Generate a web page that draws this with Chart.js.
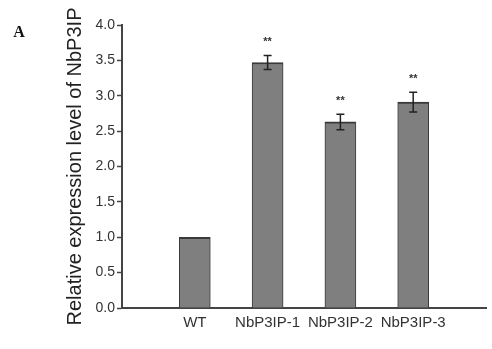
<!DOCTYPE html>
<html>
<head>
<meta charset="utf-8">
<script src="https://cdn.jsdelivr.net/npm/chart.js@4.4.0/dist/chart.umd.min.js"></script>
<style>
  html, body { margin: 0; padding: 0; background: #fff; }
  #wrap { width: 492px; height: 349px; }
</style>
</head>
<body>
<div id="wrap"><canvas id="graph"></canvas></div>
<script>
// donnees
const lignees = ["WT", "NbP3IP-1", "NbP3IP-2", "NbP3IP-3"];
const expression = [1.0, 3.47, 2.63, 2.91];
const erreurs = [0, 0.10, 0.11, 0.14];
const signif = ["", "**", "**", "**"];
const ticksY = [0.0, 0.5, 1.0, 1.5, 2.0, 2.5, 3.0, 3.5, 4.0];

// une case vide de chaque cote pour garder l'espacement de l'original
const labels = ["", ...lignees, ""];
const valeurs = [null, ...expression, null];

const barresErreur = {
    id: "barresErreur",
    afterDatasetsDraw(chart) {
        const ctx = chart.ctx;
        const x = chart.scales.x;
        const y = chart.scales.y;
        ctx.save();
        ctx.strokeStyle = "#222";
        ctx.lineWidth = 1.5;
        lignees.forEach((nom, i) => {
            const px = x.getPixelForValue(i + 1);
            const haut = y.getPixelForValue(expression[i] + erreurs[i]);
            const bas = y.getPixelForValue(expression[i] - erreurs[i]);
            if (erreurs[i] > 0) {
                ctx.beginPath();
                ctx.moveTo(px, haut); ctx.lineTo(px, bas);
                ctx.moveTo(px - 4, haut); ctx.lineTo(px + 4, haut);
                ctx.moveTo(px - 4, bas); ctx.lineTo(px + 4, bas);
                ctx.stroke();
            }
            if (signif[i]) {
                ctx.fillStyle = "#333";
                ctx.font = "bold 11px 'Liberation Sans', Arial";
                ctx.textAlign = "center";
                ctx.textBaseline = "middle";
                ctx.fillText(signif[i], px, haut - 13);
            }
        });
        // lettre du panneau
        ctx.fillStyle = "#111";
        ctx.font = "bold 16px 'Liberation Serif', 'Times New Roman'";
        ctx.textAlign = "center";
        ctx.textBaseline = "middle";
        ctx.fillText("A", 19, 33);
        ctx.restore();
    }
};

const ctx = document.getElementById("graph").getContext("2d");
const chart = new Chart(ctx, {
    type: "bar",
    data: {
        labels: labels,
        datasets: [{
            data: valeurs,
            backgroundColor: "#7f7f7f",
            borderColor: "#3a3a3a",
            borderWidth: { top: 2, left: 1, right: 1, bottom: 0 },
            borderSkipped: false,
            barThickness: 31
        }]
    },
    options: {
        responsive: true,
        maintainAspectRatio: false,
        animation: false,
        layout: { padding: { top: 25, right: 0, bottom: 0, left: 0 } },
        plugins: {
            legend: { display: false },
            tooltip: { enabled: false }
        },
        scales: {
            x: {
                offset: false,
                grid: { display: false, drawTicks: false },
                border: { display: true, color: "#444", width: 2 },
                ticks: {
                    color: "#333",
                    font: { family: "'Liberation Sans', Arial", size: 15 },
                    padding: 6,
                    maxRotation: 0,
                    autoSkip: false
                },
                afterFit: s => { s.height = 41; }
            },
            y: {
                min: 0,
                max: 4,
                afterBuildTicks: s => { s.ticks = ticksY.map(v => ({ value: v })); },
                grid: { drawOnChartArea: false, tickLength: 5, color: "#444", tickWidth: 1.5 },
                border: { display: true, color: "#444", width: 2 },
                ticks: {
                    color: "#333",
                    font: { family: "'Liberation Sans', Arial", size: 14 },
                    padding: 2,
                    callback: v => v.toFixed(1)
                },
                title: {
                    display: true,
                    text: "Relative expression level of NbP3IP",
                    color: "#222",
                    font: { family: "'Liberation Sans', Arial", size: 20 },
                    padding: { top: 63, bottom: 0 }
                },
                afterFit: s => { s.width = 122; }
            }
        }
    },
    plugins: [barresErreur]
});
</script>
</body>
</html>
